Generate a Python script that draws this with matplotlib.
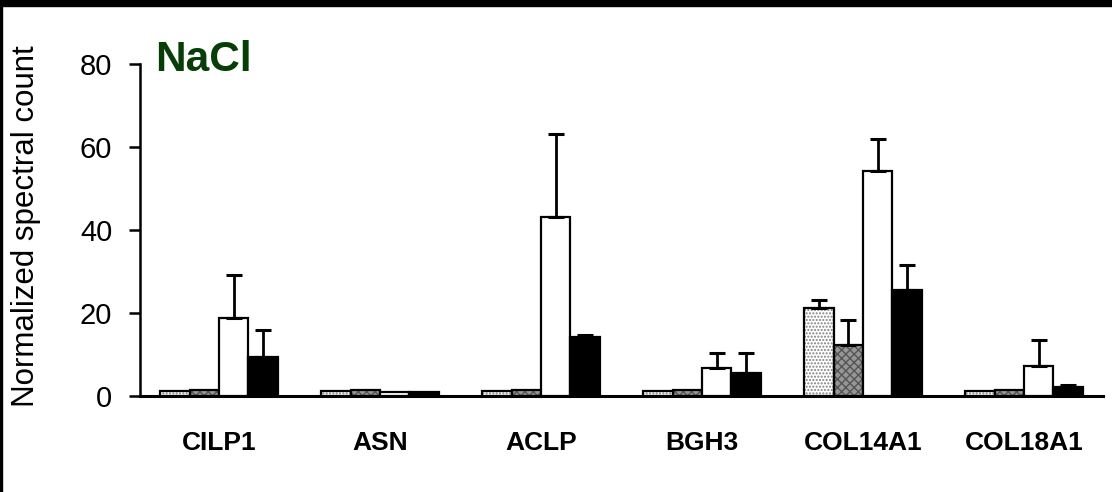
import matplotlib
matplotlib.use("Agg")
import matplotlib.pyplot as plt
import numpy as np
from matplotlib.patches import Rectangle

categories = ['CILP1', 'ASN', 'ACLP', 'BGH3', 'COL14A1', 'COL18A1']
series1 = [1.2, 1.2, 1.2, 1.2, 21.3, 1.2]
series2 = [1.4, 1.4, 1.4, 1.4, 12.3, 1.4]
series3 = [18.9, 1.0, 43.2, 6.8, 54.1, 7.3]
series4 = [9.3, 1.0, 14.3, 5.6, 25.6, 2.1]
err1 = [0, 0, 0, 0, 1.8, 0]
err2 = [0, 0, 0, 0, 6.0, 0]
err3 = [10.3, 0, 20.0, 3.6, 7.9, 6.1]
err4 = [6.5, 0, 0.4, 4.8, 6.0, 0.6]
yticks = [0, 20, 40, 60, 80]

plt.rcParams['font.family'] = ['Liberation Sans', 'DejaVu Sans']
plt.rcParams['hatch.linewidth'] = 1.0

fig = plt.figure(figsize=(11.12, 4.92), dpi=100)
ax = fig.add_axes([140/1112, 1-396/492, (1103-140)/1112, (396-64)/492])

x = np.arange(len(categories))
w = 0.182
series = [series1, series2, series3, series4]
errs = [err1, err2, err3, err4]
styles = [
    dict(fc='white', hatch='.....', hc='#808080'),
    dict(fc='#969696', hatch='xxxx', hc='#555555'),
    dict(fc='white', hatch=None, hc=None),
    dict(fc='black', hatch=None, hc=None),
]
for k, (vals, e, st) in enumerate(zip(series, errs, styles)):
    pos = x + (k - 1.5) * w
    if st['hatch']:
        ax.bar(pos, vals, w, color=st['fc'], hatch=st['hatch'], edgecolor=st['hc'],
               linewidth=0, zorder=2)
        ax.bar(pos, vals, w, fill=False, edgecolor='black', linewidth=1.6, zorder=3)
    else:
        ax.bar(pos, vals, w, color=st['fc'], edgecolor='black', linewidth=1.6, zorder=3)
    has = [i for i in range(len(vals)) if e[i] > 0]
    if has:
        ax.errorbar(pos[has], np.array(vals)[has],
                    yerr=[np.zeros(len(has)), np.array(e)[has]],
                    fmt='none', ecolor='black', elinewidth=2, capsize=6, capthick=2.2,
                    zorder=4)

ax.set_xlim(-0.49, 5.49)
ax.set_ylim(0, 80)
ax.set_yticks(yticks)
ax.set_xticks([])
for s in ['top', 'right']:
    ax.spines[s].set_visible(False)
ax.spines['left'].set_linewidth(1.8)
ax.spines['bottom'].set_linewidth(2.2)
ax.tick_params(axis='y', direction='out', length=8, width=1.8, labelsize=21, pad=12)

fig.text(26/1112, 1-226/492, 'Normalized spectral count', fontsize=22.5, rotation=90,
         ha='center', va='center')

for i, c in enumerate(categories):
    ax.text(i, -11.3, c, ha='center', va='center', fontsize=19, fontweight='bold',
            transform=ax.transData, clip_on=False)

fig.text(155/1112, 1-60/492, 'NaCl', fontsize=30.5, fontweight='bold', color='#073d07',
         ha='left', va='center')

fig.patches.append(Rectangle((0, 1-6/492), 1, 6/492, transform=fig.transFigure,
                             color='black', zorder=10))
fig.patches.append(Rectangle((0, 0), 2/1112, 1, transform=fig.transFigure,
                             color='black', zorder=10))

fig.savefig('out.png', dpi=100)
